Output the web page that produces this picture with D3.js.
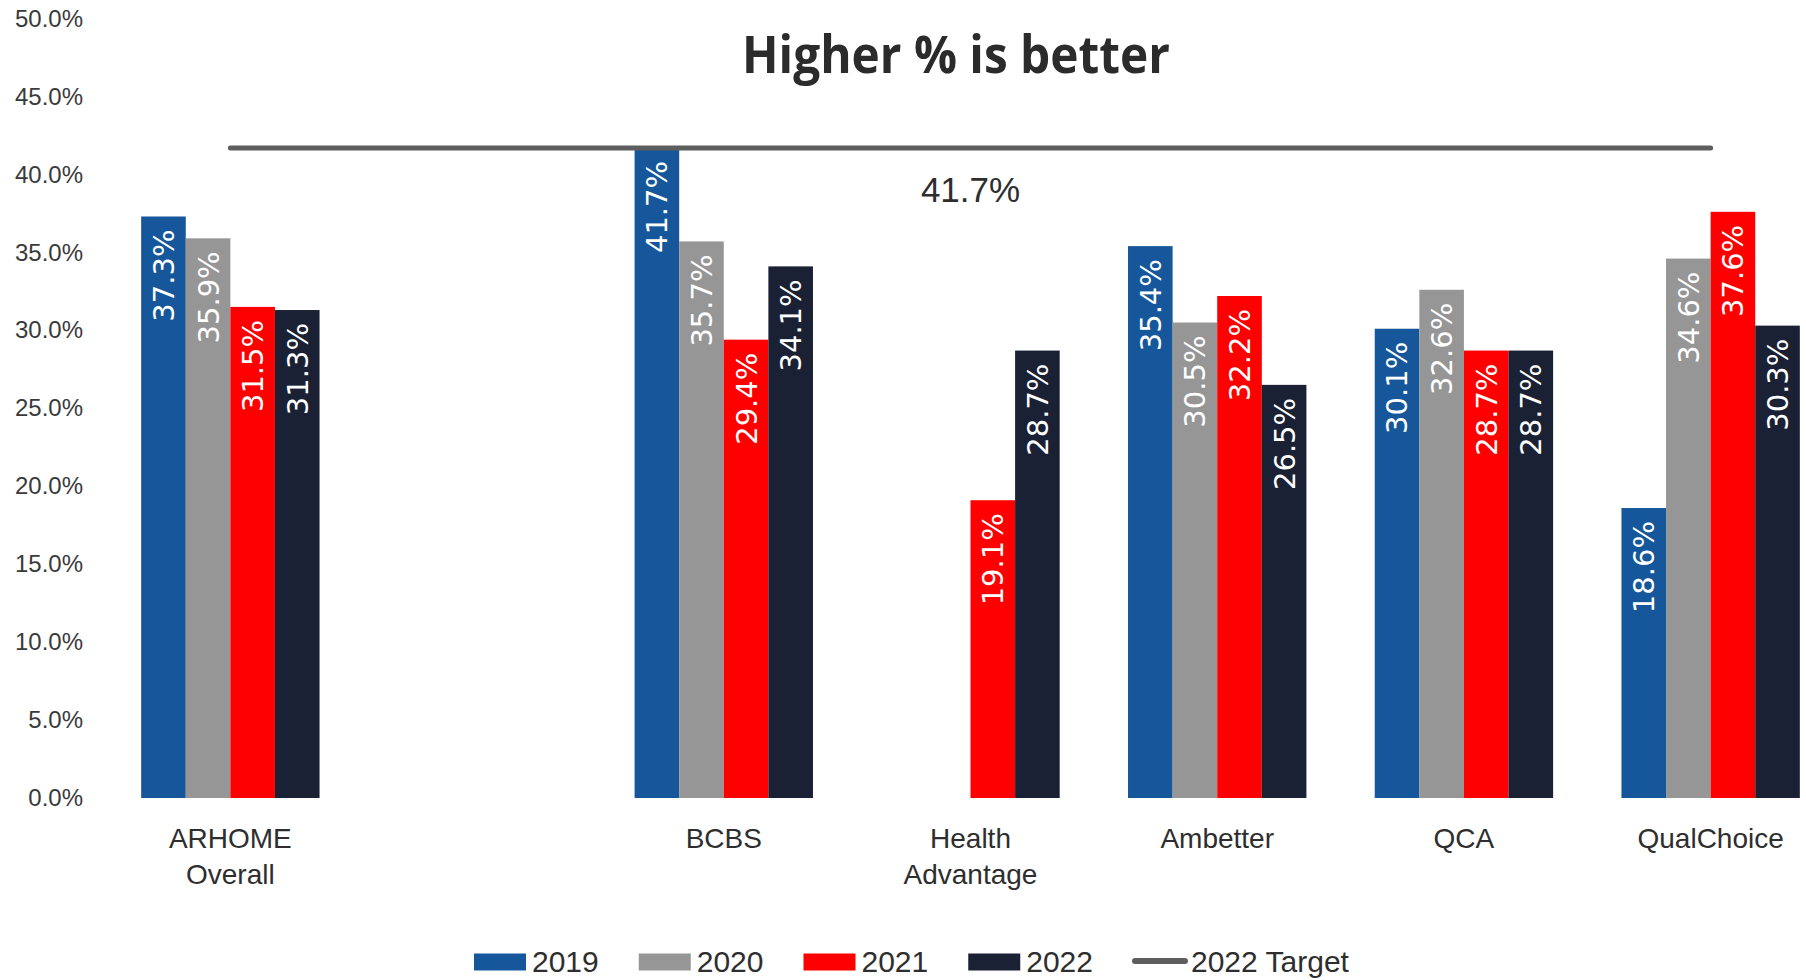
<!DOCTYPE html>
<html>
<head>
<meta charset="utf-8">
<script src="https://cdn.jsdelivr.net/npm/d3@7"></script>
<style>
  html, body { margin: 0; padding: 0; background: #fff; }
  #chart { width: 1806px; height: 980px; overflow: hidden; }
</style>
</head>
<body>
<div id="chart"></div>
<script>
// Categories (the blank one is a spacer column in the source chart)
const categories = ['ARHOME Overall', '', 'BCBS', 'Health Advantage', 'Ambetter', 'QCA', 'QualChoice'];
const years = ['2019', '2020', '2021', '2022'];

// Series values, in percent (null = no bar)
const values2019 = [37.3, null, 41.7, null, 35.4, 30.1, 18.6];
const values2020 = [35.9, null, 35.7, null, 30.5, 32.6, 34.6];
const values2021 = [31.5, null, 29.4, 19.1, 32.2, 28.7, 37.6];
const values2022 = [31.3, null, 34.1, 28.7, 26.5, 28.7, 30.3];

// Target line
const targetValue = 41.7;
const targetLabelCategory = 'Health Advantage';
const targetName = '2022 Target';

const yTicks = [0, 5, 10, 15, 20, 25, 30, 35, 40, 45, 50];
const title = 'Higher % is better';

class ScoreChart {
  constructor(containerId) {
    this.container = document.getElementById(containerId);

    this.config = {
      width: 1806,
      height: 980,
      plot: { left: 107, right: 1834, top: 18.5, bottom: 798 },
      colors: { '2019': '#15579a', '2020': '#969696', '2021': '#ff0000', '2022': '#1b2134' },
      targetColor: '#5e5e5e',
      text: '#2e2e2e'
    };

    this.series = years.map((year, i) => ({
      year,
      values: [values2019, values2020, values2021, values2022][i]
    }));

    this.init();
  }

  init() {
    const c = this.config;

    this.svg = d3.select(this.container)
      .append('svg')
      .attr('width', c.width)
      .attr('height', c.height)
      .attr('viewBox', `0 0 ${c.width} ${c.height}`);

    this.x0 = d3.scaleBand()
      .domain(categories)
      .range([c.plot.left, c.plot.right])
      .paddingInner(0.277)
      .paddingOuter(0.1385);

    this.x1 = d3.scaleBand()
      .domain(years)
      .range([0, this.x0.bandwidth()]);

    this.y = d3.scaleLinear()
      .domain([0, 50])
      .range([c.plot.bottom, c.plot.top]);

    this.drawYAxis();
    this.drawBars();
    this.drawTarget();
    this.drawCategoryLabels();
    this.drawTitle();
    this.drawLegend();
  }

  /**
   * Y axis: labels only, no line or grid
   */
  drawYAxis() {
    const axis = d3.axisLeft(this.y)
      .tickValues(yTicks)
      .tickFormat(d => d.toFixed(1) + '%')
      .tickSize(0)
      .tickPadding(0);

    const g = this.svg.append('g')
      .attr('transform', 'translate(83,0)')
      .call(axis);

    g.select('.domain').remove();
    g.selectAll('text')
      .attr('fill', '#3a3a3a')
      .attr('font-family', '"Liberation Sans", Arial, sans-serif')
      .attr('font-size', '24px');
  }

  /**
   * Grouped bars with rotated value labels
   */
  drawBars() {
    const c = this.config;
    const data = [];
    this.series.forEach(s => {
      s.values.forEach((v, i) => {
        if (v !== null) data.push({ year: s.year, category: categories[i], value: v });
      });
    });

    const bars = this.svg.append('g').attr('class', 'bars');

    bars.selectAll('rect.bar')
      .data(data)
      .join('rect')
      .attr('class', 'bar')
      .attr('x', d => this.x0(d.category) + this.x1(d.year))
      .attr('y', d => this.y(d.value))
      .attr('width', this.x1.bandwidth())
      .attr('height', d => this.y(0) - this.y(d.value))
      .attr('fill', d => c.colors[d.year]);

    bars.selectAll('text.value')
      .data(data)
      .join('text')
      .attr('class', 'value')
      .attr('transform', d => {
        const cx = this.x0(d.category) + this.x1(d.year) + this.x1.bandwidth() / 2;
        return `translate(${cx},${this.y(d.value) + 13}) rotate(-90)`;
      })
      .attr('text-anchor', 'end')
      .attr('dy', '0.36em')
      .attr('fill', '#fff')
      .attr('font-family', '"DejaVu Sans", sans-serif')
      .attr('font-size', '29px')
      .text(d => d.value.toFixed(1) + '%');
  }

  /**
   * Target line across the category centres
   */
  drawTarget() {
    const c = this.config;
    const centre = d => this.x0(d) + this.x0.bandwidth() / 2;
    const named = categories.filter(d => d !== '');

    this.svg.append('line')
      .attr('x1', centre(named[0]))
      .attr('x2', centre(named[named.length - 1]))
      .attr('y1', this.y(targetValue))
      .attr('y2', this.y(targetValue))
      .attr('stroke', c.targetColor)
      .attr('stroke-width', 5)
      .attr('stroke-linecap', 'round');

    this.svg.append('text')
      .attr('x', centre(targetLabelCategory))
      .attr('y', this.y(targetValue) + 54)
      .attr('text-anchor', 'middle')
      .attr('fill', c.text)
      .attr('font-family', '"Liberation Sans", Arial, sans-serif')
      .attr('font-size', '35px')
      .text(targetValue.toFixed(1) + '%');
  }

  /**
   * Category labels, wrapped on spaces
   */
  drawCategoryLabels() {
    const c = this.config;
    const labels = this.svg.append('g')
      .selectAll('text')
      .data(categories.filter(d => d !== ''))
      .join('text')
      .attr('x', d => this.x0(d) + this.x0.bandwidth() / 2)
      .attr('y', 848)
      .attr('text-anchor', 'middle')
      .attr('fill', c.text)
      .attr('font-family', '"Liberation Sans", Arial, sans-serif')
      .attr('font-size', '28px');

    labels.each(function(d) {
      const words = d.split(' ');
      const x = d3.select(this).attr('x');
      words.forEach((w, i) => {
        d3.select(this).append('tspan')
          .attr('x', x)
          .attr('dy', i === 0 ? 0 : 36)
          .text(w);
      });
    });
  }

  drawTitle() {
    this.svg.append('text')
      .attr('x', 956)
      .attr('y', 73)
      .attr('text-anchor', 'middle')
      .attr('fill', '#2b2b2b')
      .attr('font-family', '"Open Sans", "Noto Sans", sans-serif')
      .attr('font-weight', 'bold')
      .attr('font-size', '52px')
      .attr('textLength', 428)
      .attr('lengthAdjust', 'spacingAndGlyphs')
      .text(title);
  }

  /**
   * Legend along the bottom: four swatches and the target line
   */
  drawLegend() {
    const c = this.config;
    const items = years.map(y => ({ name: y, type: 'bar' }))
      .concat([{ name: targetName, type: 'line' }]);

    const g = this.svg.append('g').attr('class', 'legend');
    let x = 474;
    const yMid = 962;

    items.forEach(item => {
      if (item.type === 'bar') {
        g.append('rect')
          .attr('x', x)
          .attr('y', yMid - 8.5)
          .attr('width', 52)
          .attr('height', 17)
          .attr('fill', c.colors[item.name]);
      } else {
        g.append('line')
          .attr('x1', x + 2)
          .attr('x2', x + 52)
          .attr('y1', yMid - 1)
          .attr('y2', yMid - 1)
          .attr('stroke', c.targetColor)
          .attr('stroke-width', 6)
          .attr('stroke-linecap', 'round');
      }

      const label = g.append('text')
        .attr('x', x + 58)
        .attr('y', yMid)
        .attr('dy', '0.34em')
        .attr('fill', c.text)
        .attr('font-family', '"Liberation Sans", Arial, sans-serif')
        .attr('font-size', '30px')
        .text(item.name);

      x += 58 + label.node().getComputedTextLength() + 40;
    });
  }
}

new ScoreChart('chart');
</script>
</body>
</html>
